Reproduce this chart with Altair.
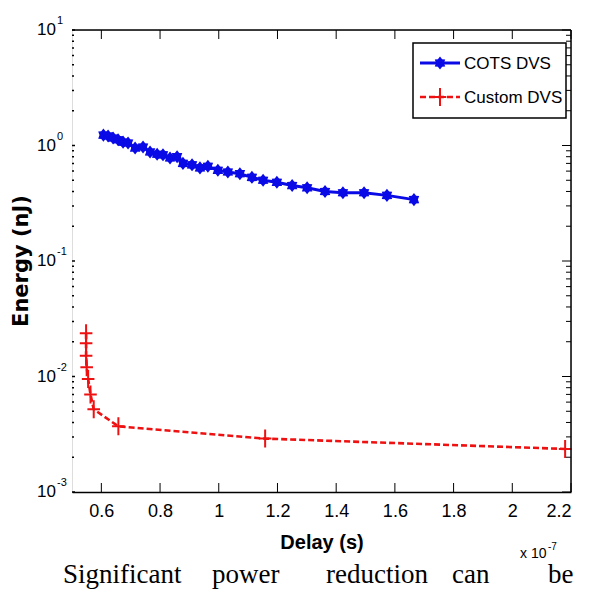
import altair as alt
import pandas as pd

# ---------------- data ----------------
cots_delay = [0.607, 0.623, 0.640, 0.657, 0.674, 0.691, 0.715, 0.742, 0.766, 0.790,
              0.810, 0.834, 0.858, 0.878, 0.909, 0.936, 0.963, 0.997, 1.031, 1.072,
              1.113, 1.151, 1.198, 1.250, 1.301, 1.362, 1.423, 1.495, 1.573, 1.665]
cots_energy = [1.23, 1.21, 1.16, 1.12, 1.07, 1.05, 0.95, 0.97, 0.88, 0.84,
               0.83, 0.78, 0.80, 0.70, 0.68, 0.64, 0.66, 0.61, 0.59, 0.57,
               0.53, 0.50, 0.48, 0.45, 0.43, 0.40, 0.39, 0.39, 0.37, 0.34]

custom_delay = [0.548, 0.548, 0.548, 0.550, 0.555, 0.563, 0.574, 0.658, 1.158, 2.180]
custom_energy = [0.0237, 0.0194, 0.0151, 0.0120, 0.0095, 0.0070, 0.0052, 0.0037, 0.0029, 0.00236]

x_ticks = [0.6, 0.8, 1.0, 1.2, 1.4, 1.6, 1.8, 2.0, 2.2]
y_major = [0.001, 0.01, 0.1, 1, 10]
y_major_exp = ["-3", "-2", "-1", "0", "1"]
y_minor = [0.002, 0.003, 0.004, 0.005, 0.006, 0.007, 0.008, 0.009,
           0.02, 0.03, 0.04, 0.05, 0.06, 0.07, 0.08, 0.09,
           0.2, 0.3, 0.4, 0.5, 0.6, 0.7, 0.8, 0.9,
           2, 3, 4, 5, 6, 7, 8, 9]
series_names = ["COTS DVS", "Custom DVS"]
caption_words = ["Significant", "power", "reduction", "can", "be"]

# ---------------- styling ----------------
W, H = 499, 462
BLUE = "#0a0ae6"
RED = "#ee1111"
NARROW = "Liberation Sans Narrow, Arial Narrow, Liberation Sans, Arial, sans-serif"
BOLDF = "DejaVu Sans, Liberation Sans, sans-serif"
SERIF = "Liberation Serif, Times New Roman, serif"
HEXAGRAM = ("M0,-1L0.33,-0.58L0.8,-0.55L0.6,0L0.8,0.55L0.33,0.58L0,1"
            "L-0.33,0.58L-0.8,0.55L-0.6,0L-0.8,-0.55L-0.33,-0.58Z")
PLUS = "M-0.7,0L0.7,0M0,-1L0,1"

xs = alt.Scale(domain=[0.5, 2.2], nice=False, zero=False)
ys = alt.Scale(type="log", domain=[0.001, 10], nice=False)

x_axis = alt.Axis(values=x_ticks, format="~g", ticks=False, domain=True,
                  domainColor="black", domainWidth=1.5, grid=False,
                  labelFont=NARROW, labelFontSize=18, labelColor="black",
                  labelPadding=10, title="Delay (s)", titleFont=NARROW,
                  titleFontSize=20, titleFontWeight="bold", titleColor="black",
                  titlePadding=12)
y_axis = alt.Axis(labels=False, ticks=False, domain=False, grid=False, title=None)

cots = pd.DataFrame({"delay": cots_delay, "energy": cots_energy,
                     "i": list(range(len(cots_delay)))})
custom = pd.DataFrame({"delay": custom_delay, "energy": custom_energy,
                       "i": list(range(len(custom_delay)))})

X = alt.X("delay:Q", scale=xs, axis=x_axis)
Y = alt.Y("energy:Q", scale=ys, axis=y_axis)

cots_line = alt.Chart(cots).mark_line(color=BLUE, strokeWidth=3).encode(x=X, y=Y, order="i:Q")
cots_pts = alt.Chart(cots).mark_point(shape=HEXAGRAM, filled=True, color=BLUE,
                                      size=170, opacity=1).encode(x=X, y=Y)
custom_line = alt.Chart(custom).mark_line(color=RED, strokeWidth=2.6,
                                          strokeDash=[6, 3]).encode(x=X, y=Y, order="i:Q")
custom_pts = alt.Chart(custom).mark_point(shape=PLUS, filled=False, color=RED,
                                          size=324, strokeWidth=2, opacity=1).encode(x=X, y=Y)

one = pd.DataFrame({"k": [0]})

# frame (top/right spines)
top_spine = alt.Chart(one).mark_rule(color="black", strokeWidth=1.5).encode(
    x=alt.value(0), x2=alt.value(W), y=alt.value(0))
right_spine = alt.Chart(one).mark_rule(color="black", strokeWidth=1.5).encode(
    x=alt.value(W), y=alt.value(0), y2=alt.value(H))

xt = pd.DataFrame({"delay": x_ticks})
bottom_ticks = alt.Chart(xt).mark_rule(color="black", strokeWidth=1).encode(
    x=X, y=alt.value(H), y2=alt.value(H - 9))
top_ticks = alt.Chart(xt).mark_rule(color="black", strokeWidth=1).encode(
    x=X, y=alt.value(0), y2=alt.value(9))

ymaj = pd.DataFrame({"energy": y_major, "e": y_major_exp, "ten": ["10"] * len(y_major)})
ymin = pd.DataFrame({"energy": y_minor})
right_major = alt.Chart(ymaj).mark_rule(color="black", strokeWidth=1).encode(
    y=Y, x=alt.value(W), x2=alt.value(W - 9))
right_minor = alt.Chart(ymin).mark_rule(color="black", strokeWidth=1).encode(
    y=Y, x=alt.value(W), x2=alt.value(W - 5))
left_major = alt.Chart(ymaj).mark_rule(color="black", strokeWidth=1.5).encode(
    y=Y, x=alt.value(0), x2=alt.value(3))
left_minor = alt.Chart(ymin).mark_rule(color="black", strokeWidth=1.5).encode(
    y=Y, x=alt.value(0), x2=alt.value(2))

# y tick labels 10^k
y_lab_base = alt.Chart(ymaj).mark_text(font=NARROW, fontSize=17, align="right",
                                       baseline="middle", color="black").encode(
    y=Y, x=alt.value(-16), text="ten:N")
y_lab_exp = alt.Chart(ymaj).mark_text(font=NARROW, fontSize=11, align="left",
                                      baseline="middle", dy=-9, color="black").encode(
    y=Y, x=alt.value(-15), text="e:N")


def txt(s, x, y, **kw):
    d = pd.DataFrame({"s": [s]})
    return alt.Chart(d).mark_text(**kw).encode(x=alt.value(x), y=alt.value(y), text="s:N")


y_title = txt("Energy (nJ)", -50, H / 2, font=BOLDF, fontSize=21, fontWeight="bold",
              angle=270, align="center", baseline="middle", color="black")
x_exp_base = txt("x 10", 448, 524, font=NARROW, fontSize=14, align="left",
                 baseline="middle", color="black")
x_exp_exp = txt("-7", 476, 517, font=NARROW, fontSize=10, align="left",
                baseline="middle", color="black")

# legend
LX0, LX1, LY0, LY1 = 341, 494, 13, 88
leg_box = alt.Chart(one).mark_rect(fill="white", stroke="black", strokeWidth=1.5).encode(
    x=alt.value(LX0), x2=alt.value(LX1), y=alt.value(LY0), y2=alt.value(LY1))
leg_blue_line = alt.Chart(one).mark_rule(color=BLUE, strokeWidth=3).encode(
    x=alt.value(348), x2=alt.value(388), y=alt.value(33))
leg_blue_pt = alt.Chart(one).mark_point(shape=HEXAGRAM, filled=True, color=BLUE,
                                        size=170, opacity=1).encode(
    x=alt.value(368), y=alt.value(33))
leg_red_line = alt.Chart(one).mark_rule(color=RED, strokeWidth=2.6, strokeDash=[6, 3]).encode(
    x=alt.value(348), x2=alt.value(388), y=alt.value(67))
leg_red_pt = alt.Chart(one).mark_point(shape=PLUS, filled=False, color=RED, size=324,
                                       strokeWidth=2, opacity=1).encode(
    x=alt.value(368), y=alt.value(67))
leg_t1 = txt(series_names[0], 392, 34, font=NARROW, fontSize=17, align="left",
             baseline="middle", color="black")
leg_t2 = txt(series_names[1], 392, 68, font=NARROW, fontSize=17, align="left",
             baseline="middle", color="black")

# caption below the figure
cap_x = [-9, 140, 254, 380, 476]
caption = [txt(w, cx, 553, font=SERIF, fontSize=27, align="left",
               baseline="alphabetic", color="black")
           for w, cx in zip(caption_words, cap_x)]

chart = alt.layer(
    custom_line, custom_pts, cots_line, cots_pts,
    top_spine, right_spine, bottom_ticks, top_ticks,
    right_major, right_minor, left_major, left_minor,
    y_lab_base, y_lab_exp, y_title, x_exp_base, x_exp_exp,
    leg_box, leg_blue_line, leg_blue_pt, leg_red_line, leg_red_pt, leg_t1, leg_t2,
    *caption,
).properties(
    width=W, height=H,
    autosize=alt.AutoSizeParams(type="none"),
    padding={"left": 64, "top": 22, "right": 10, "bottom": 99},
).configure_view(stroke=None).configure(background="white")

chart.save("out.html", embed_options={"renderer": "svg", "actions": False})
